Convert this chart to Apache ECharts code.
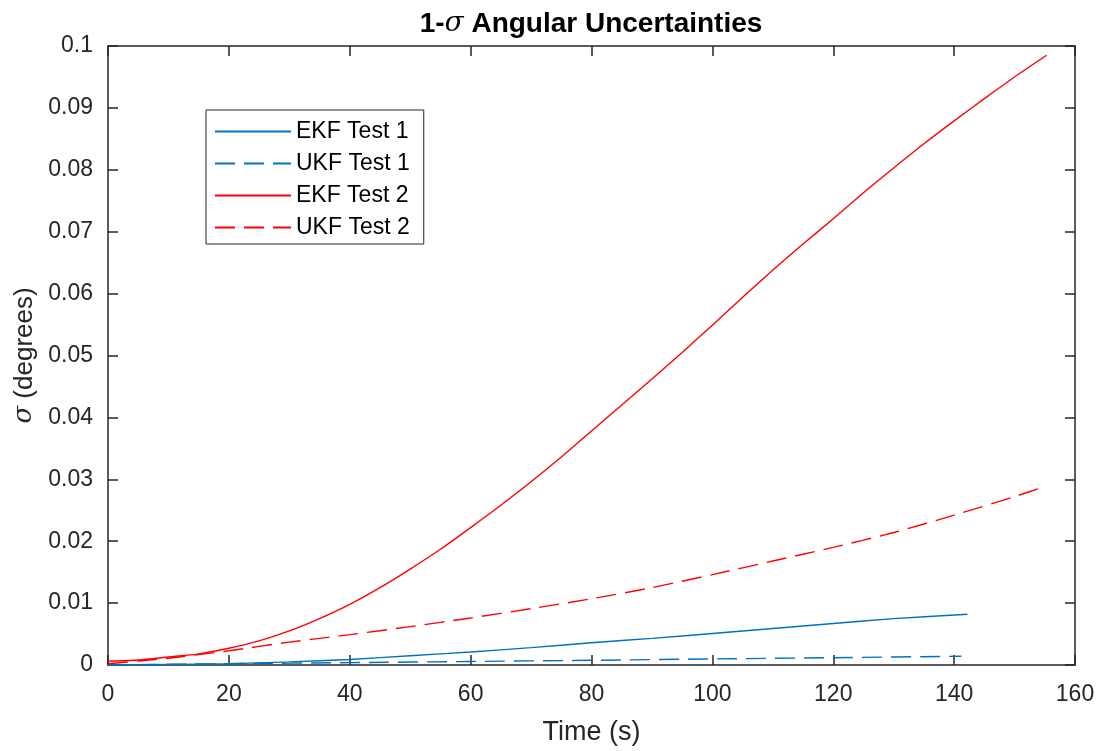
<!DOCTYPE html>
<html>
<head>
<meta charset="utf-8">
<script src="https://cdn.jsdelivr.net/npm/echarts@6/dist/echarts.min.js"></script>
<style>
  html, body { margin: 0; padding: 0; background: #fff; }
  #main { width: 1099px; height: 751px; }
</style>
</head>
<body>
<div id="main"></div>
<script>
// values
var tEkf1 = [0, 10, 20, 30, 40, 50, 60, 70, 80, 90, 100, 110, 120, 130, 142.2];
var ekf1 = [0, 0.00008, 0.0002, 0.0005, 0.0009, 0.0015, 0.0021, 0.0028, 0.0036, 0.0043, 0.0051, 0.0059, 0.0067, 0.0075, 0.0082];

var tUkf1 = [0, 20, 40, 60, 80, 100, 120, 141.2];
var ukf1 = [0, 0.00021, 0.00038, 0.00057, 0.00076, 0.00098, 0.00118, 0.00142];

var tEkf2 = [0, 5, 10, 15, 20, 25, 30, 35, 40, 45, 50, 55, 60, 65, 70, 75, 80, 85, 90, 95, 100,
             105, 110, 115, 120, 125, 130, 135, 140, 145, 150, 155.3];
var ekf2 = [0.0006, 0.0008, 0.0013, 0.0018, 0.0027, 0.0039, 0.0055, 0.0075, 0.0098, 0.0125, 0.0155,
            0.0187, 0.0222, 0.0258, 0.0296, 0.0336, 0.0378, 0.042, 0.0462, 0.0505, 0.0549,
            0.0594, 0.0638, 0.068, 0.0721, 0.0763, 0.0803, 0.0842, 0.0879, 0.0915, 0.095, 0.0985];

var tUkf2 = [0, 10, 20, 30, 40, 50, 60, 70, 80, 90, 100, 110, 120, 130, 140, 150, 154.6];
var ukf2 = [0.0002, 0.0011, 0.0023, 0.0037, 0.0049, 0.0062, 0.0076, 0.0091, 0.0107, 0.0125,
            0.0146, 0.0168, 0.019, 0.0214, 0.0242, 0.0272, 0.0287];

var seriesNames = ['EKF Test 1', 'UKF Test 1', 'EKF Test 2', 'UKF Test 2'];
var xTicks = { min: 0, max: 160, step: 20 };
var yTicks = { min: 0, max: 0.1, step: 0.01 };

function pairs(t, v) {
    var out = [];
    for (var i = 0; i < t.length; i++) {
        out.push([t[i], v[i]]);
    }
    return out;
}

var fontFam = 'Liberation Sans, Arial, sans-serif';
var ink = '#262626';
var blue = '#0072BD';
var red = '#FF0000';
var dash = [20, 9];

function lineSeries(name, t, v, color, dashed) {
    return {
        name: name,
        type: 'line',
        data: pairs(t, v),
        xAxisIndex: 0,
        yAxisIndex: 0,
        symbol: 'none',
        smooth: 0.2,
        animation: false,
        lineStyle: { color: color, width: 1.4, type: dashed ? dash : 'solid' },
        itemStyle: { color: color }
    };
}

var chart = echarts.init(document.getElementById('main'));

// box axes: line not on zero, ticks pointing into the plot
var axisLine = { show: true, onZero: false, lineStyle: { color: ink, width: 1.5 } };
var tick = { show: true, inside: true, length: 10, lineStyle: { color: ink, width: 1.5 } };

var option = {
    backgroundColor: '#fff',
    animation: false,
    title: {
        text: '1-{s|σ} Angular Uncertainties',
        left: 586,
        textAlign: 'center',
        top: 5,
        textStyle: {
            fontFamily: fontFam,
            fontWeight: 'bold',
            fontSize: 28,
            color: '#000',
            rich: {
                s: { fontFamily: 'DejaVu Serif, serif', fontStyle: 'italic', fontWeight: 'normal', fontSize: 28, color: '#000' }
            }
        }
    },
    grid: { left: 108, right: 24, top: 46, bottom: 83, containLabel: false },
    legend: {
        orient: 'vertical',
        left: 206,
        top: 110,
        data: seriesNames,
        backgroundColor: '#fff',
        borderColor: ink,
        borderWidth: 1,
        borderRadius: 0,
        padding: [10, 14, 5, 8],
        itemWidth: 76,
        itemHeight: 14,
        itemGap: 9,
        itemStyle: { opacity: 0 },
        textStyle: { fontFamily: fontFam, fontSize: 23, color: '#000' }
    },
    xAxis: [{
        type: 'value',
        min: xTicks.min,
        max: xTicks.max,
        interval: xTicks.step,
        position: 'bottom',
        name: 'Time (s)',
        nameLocation: 'middle',
        nameGap: 54,
        nameTextStyle: { fontFamily: fontFam, fontSize: 27, color: ink },
        axisLine: axisLine,
        axisTick: tick,
        axisLabel: { margin: 18, fontFamily: fontFam, fontSize: 23, color: ink },
        splitLine: { show: false }
    }, {
        type: 'value',
        min: xTicks.min,
        max: xTicks.max,
        interval: xTicks.step,
        position: 'top',
        axisLine: axisLine,
        axisTick: tick,
        axisLabel: { show: false },
        splitLine: { show: false }
    }],
    yAxis: [{
        type: 'value',
        min: yTicks.min,
        max: yTicks.max,
        interval: yTicks.step,
        position: 'left',
        name: '{s|σ} (degrees)',
        nameLocation: 'middle',
        nameGap: 68,
        nameTextStyle: {
            fontFamily: fontFam, fontSize: 26, color: ink,
            rich: { s: { fontFamily: 'DejaVu Serif, serif', fontStyle: 'italic', fontSize: 26, color: ink } }
        },
        axisLine: axisLine,
        axisTick: tick,
        axisLabel: {
            margin: 15, fontFamily: fontFam, fontSize: 23, color: ink,
            formatter: function (v) { return String(parseFloat(v.toFixed(2))); }
        },
        splitLine: { show: false }
    }, {
        type: 'value',
        min: yTicks.min,
        max: yTicks.max,
        interval: yTicks.step,
        position: 'right',
        axisLine: axisLine,
        axisTick: tick,
        axisLabel: { show: false },
        splitLine: { show: false }
    }],
    series: [
        lineSeries(seriesNames[0], tEkf1, ekf1, blue, false),
        lineSeries(seriesNames[1], tUkf1, ukf1, blue, true),
        lineSeries(seriesNames[2], tEkf2, ekf2, red, false),
        lineSeries(seriesNames[3], tUkf2, ukf2, red, true)
    ]
};

chart.setOption(option);
window.addEventListener('resize', function () {
    chart.resize();
});
</script>
</body>
</html>
